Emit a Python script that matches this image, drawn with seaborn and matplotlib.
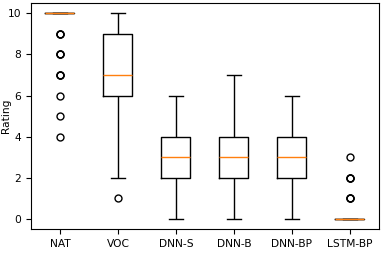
import numpy as np
import pandas as pd
import matplotlib
matplotlib.use("Agg")
import matplotlib.pyplot as plt
import seaborn as sns

# Rating levels and how many listeners gave each rating, per system
levels = np.arange(0, 11)
systems = ['NAT', 'VOC', 'DNN-S', 'DNN-B', 'DNN-BP', 'LSTM-BP']
nat_counts = [0, 0, 0, 0, 1, 1, 1, 3, 3, 3, 40]
voc_counts = [0, 1, 1, 1, 2, 3, 6, 8, 6, 6, 6]
dnn_s_counts = [2, 4, 8, 10, 8, 4, 2, 0, 0, 0, 0]
dnn_b_counts = [2, 4, 8, 10, 8, 3, 2, 1, 0, 0, 0]
dnn_bp_counts = [1, 4, 9, 10, 9, 4, 1, 0, 0, 0, 0]
lstm_bp_counts = [40, 3, 3, 1, 0, 0, 0, 0, 0, 0, 0]

all_counts = [nat_counts, voc_counts, dnn_s_counts, dnn_b_counts,
              dnn_bp_counts, lstm_bp_counts]

rows = []
for name, counts in zip(systems, all_counts):
    for r in np.repeat(levels, counts):
        rows.append({'System': name, 'Rating': r})
df = pd.DataFrame(rows)

plt.rcParams['font.size'] = 7.7
fig = plt.figure(figsize=(3.82, 2.54), dpi=100)
ax = fig.add_axes([0.081, 0.098, 0.911, 0.89])

sns.boxplot(data=df, x='System', y='Rating', order=systems, ax=ax,
            fill=False, color='black', width=0.5, linewidth=1, whis=1.5,
            medianprops={'color': '#ff7f0e', 'zorder': 5},
            flierprops={'marker': 'o', 'markerfacecolor': 'none',
                        'markeredgecolor': 'black', 'markersize': 5})

ax.set_ylim(-0.5, 10.5)
ax.set_xlim(-0.5, 5.5)
ax.set_yticks([0, 2, 4, 6, 8, 10])
ax.set_xlabel('')
ax.set_ylabel('Rating')
ax.yaxis.set_label_coords(-0.056, 0.5)

fig.savefig('out.png', dpi=100)
